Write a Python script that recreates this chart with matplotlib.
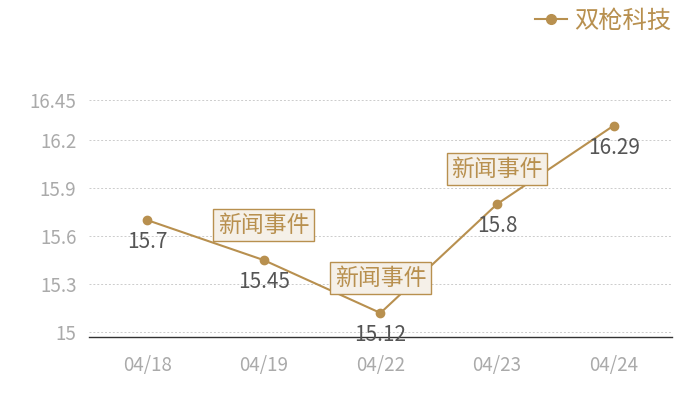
import matplotlib
matplotlib.use("Agg")
import matplotlib.pyplot as plt
from matplotlib.lines import Line2D

plt.rcParams['font.family'] = ['Noto Sans CJK SC', 'DejaVu Sans']

# data
dates = ['04/18', '04/19', '04/22', '04/23', '04/24']
prices = [15.7, 15.45, 15.12, 15.8, 16.29]
event_dates = ['04/19', '04/22', '04/23']
event_label = '新闻事件'
series_name = '双枪科技'
y_ticks = [15, 15.3, 15.6, 15.9, 16.2, 16.45]

gold = '#b8904f'

fig = plt.figure(figsize=(7, 4), dpi=100)
ax = fig.add_axes([0.127, 0.1575, 0.833, 0.5925])

x = list(range(len(dates)))
ax.plot(x, prices, color=gold, linewidth=1.5, marker='o', markersize=6, zorder=3)

# value labels under the points
for xi, v in zip(x, prices):
    ax.annotate(f'{v:g}', (xi, v), xytext=(0, -16), textcoords='offset points',
                ha='center', va='center', fontsize=15, color='#555555', zorder=4)

# event boxes above the points
for d in event_dates:
    i = dates.index(d)
    ax.annotate(event_label, (i, prices[i]), xytext=(0, 25), textcoords='offset points',
                ha='center', va='center', fontsize=16.5, color=gold, zorder=5,
                bbox=dict(boxstyle='square,pad=0.2', facecolor='#f5f0e8', edgecolor=gold, linewidth=1))

ax.set_xlim(-0.5, len(dates) - 0.5)
ax.set_ylim(14.97, 16.45)
ax.set_xticks(x)
ax.set_xticklabels(dates)
ax.set_yticks(y_ticks)
ax.set_yticklabels([f'{t:g}' for t in y_ticks])
ax.tick_params(axis='both', length=0, colors='#aaaaaa', labelsize=13.5)
ax.tick_params(axis='x', pad=13)
ax.tick_params(axis='y', pad=9)
ax.grid(axis='y', color='#cccccc', linestyle=(0, (2, 2)), linewidth=0.7)
ax.set_axisbelow(True)
for s in ['top', 'right', 'left']:
    ax.spines[s].set_visible(False)
ax.spines['bottom'].set_color('#333333')
ax.spines['bottom'].set_linewidth(1)

handle = Line2D([], [], color=gold, linewidth=1.5, marker='o', markersize=7)
leg = fig.legend([handle], [series_name], loc='upper right', bbox_to_anchor=(0.99, 1.035),
                 frameon=False, fontsize=17.5, handlelength=1.3, handletextpad=0.3)
for t in leg.get_texts():
    t.set_color(gold)

fig.savefig('out.png', dpi=100)
